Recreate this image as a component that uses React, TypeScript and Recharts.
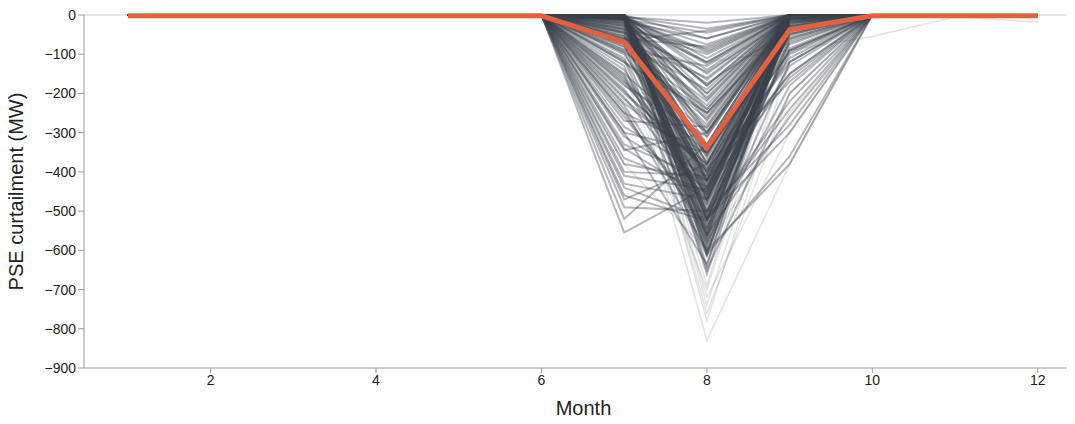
import React from "react";
import {
  LineChart,
  Line,
  XAxis,
  YAxis,
  ReferenceLine,
} from "recharts";

const months = [1, 2, 3, 4, 5, 6, 7, 8, 9, 10, 11, 12];
const monthTicks = [2, 4, 6, 8, 10, 12];
const mwTicks = [-900, -800, -700, -600, -500, -400, -300, -200, -100, 0];

// Per-scenario curtailment (MW) for the summer months; all other months are 0
const jul = [
  0, -2, -4, 0, -6, -1, -3, -8, 0, -5,
  -2, -10, 0, -4, -7, -1, -12, -3, 0, -6,
  -9, -2, -5, 0, -14, -3, -1, -8, -4, -11,
  0, -6, -2, -15, -5, -3, -9, 0, -7, -4,
  -13, -1, -6, -2, -10, 0, -5, -3, -8, -2,
  -22, -35, -48, -27, -60, -41, -75, -30, -55, -88,
  -95, -38, -67, -110, -45, -82, -120, -52, -70, -100,
  -25, -62, -90, -115, -44, -155, -180, -210, -240, -195,
  -270, -300, -165, -330, -225, -345, -410, -470, -520, -555,
  0, -3, -1, 0, -5, -2, 0, -7, -1, -4,
  -2, 0, -6, -1, 0, -3, -9, 0, -2, -5,
  -35, -130, -190, -250, -20, -300, -400, -75, -160, -460,
  -140, -200, -260, -310, -380, -430, -490, -170, -230, -285,
  -120, -95, -150, -175, -60, -215, -250, -340, -440, -365,
  -18, -30, -45, -12, -65, -25, -80, -36, -55, -20,
];
const aug = [
  -420, -560, -35, -610, -180, -150, -520, -90, -440, -270,
  -450, -95, -585, -330, -505, -215, -470, -140, -60, -545,
  -380, -600, -125, -250, -530, -300, -425, -410, -180, -45,
  -555, -240, -460, -650, -20, -515, -355, -200, -435, -560,
  -400, -570, -260, -120, -420, -110, -540, -365, -75, -445,
  -310, -200, -470, -165, -80, -425, -280, -520, -230, -130,
  -455, -340, -160, -500, -290, -375, -250, -610, -190, -405,
  -520, -510, -265, -580, -360, -440, -310, -470, -600, -395,
  -285, -350, -460, -420, -380, -300, -445, -380, -330, -440,
  -480, -530, -610, -400, -570, -455, -640, -505, -380, -590,
  -545, -420, -600, -470, -520, -355, -660, -495, -430, -575,
  -390, -615, -460, -545, -500, -635, -410, -560, -485, -525,
  -480, -380, -520, -440, -420, -470, -500, -350, -560, -410,
  -300, -250, -330, -400, -220, -390, -350, -470, -520, -450,
  -60, -100, -145, -210, -40, -175, -240, -85, -300, -120,
];
const sep = [
  0, -5, 0, -20, 0, 0, -40, 0, -10, 0,
  0, 0, -60, 0, -15, 0, -90, 0, 0, -30,
  0, -120, 0, 0, -8, 0, -150, 0, 0, 0,
  -25, 0, 0, -200, 0, -45, 0, 0, -5, -260,
  0, -70, 0, 0, -110, 0, -35, 0, 0, -12,
  0, 0, -50, 0, 0, -18, 0, -85, 0, 0,
  -6, 0, 0, -130, 0, 0, -22, -360, 0, -55,
  -300, -40, 0, -180, 0, -75, 0, -10, -380, 0,
  0, -28, -65, 0, -95, 0, -160, -15, 0, -48,
  0, 0, -5, 0, 0, -20, 0, 0, -8, 0,
  0, -3, 0, 0, -12, 0, 0, -30, 0, 0,
  -4, 0, 0, 0, -25, 0, -10, 0, 0, -2,
  -100, 0, -220, -40, -150, 0, -280, -60, 0, -120,
  0, -30, 0, -90, 0, -170, -50, 0, -240, -20,
  0, 0, -10, 0, 0, -35, 0, 0, -15, 0,
];

// rare extreme-summer scenarios
const julExtreme = [-10, -5, -60, -150, -20, -2, -380, 0];
const augExtreme = [-720, -780, -830, -700, -760, -690, -600, -740];
const sepExtreme = [-300, -120, -380, -40, -200, 0, -250, -90];

// one scenario that keeps curtailing into late autumn
const lateScenario = [0, 0, 0, 0, 0, 0, -15, -120, -90, -55, -5, -18];
const meanCurtailment = [-2, -2, -2, -2, -2, -2, -69, -338, -38, -2, -2, -2];

const scenarioKeys = jul.map((_, i) => `s${i}`);
const extremeKeys = julExtreme.map((_, i) => `x${i}`);

const summerValue = (m: number, j: number[], a: number[], s: number[], i: number) =>
  m === 7 ? j[i] : m === 8 ? a[i] : m === 9 ? s[i] : 0;

const data = months.map((m, mi) => {
  const row: Record<string, number> = {
    month: m,
    late: lateScenario[mi],
    mean: meanCurtailment[mi],
  };
  scenarioKeys.forEach((k, i) => {
    row[k] = summerValue(m, jul, aug, sep, i);
  });
  extremeKeys.forEach((k, i) => {
    row[k] = summerValue(m, julExtreme, augExtreme, sepExtreme, i);
  });
  return row;
});

const font = "'Liberation Sans', Arial, sans-serif";
const fmt = (v: number) => String(v).replace("-", "\u2212");
const scenarioStroke = "#3b414c";

export default function App() {
  return (
    <div style={{ margin: -8, background: "#fff", fontFamily: font }}>
      <LineChart
        width={1075}
        height={424}
        data={data}
        margin={{ top: 15, right: 0, left: 0, bottom: 0 }}
      >
        <XAxis
          dataKey="month"
          type="number"
          domain={[0.47, 12.45]}
          ticks={monthTicks}
          allowDataOverflow
          height={56}
          stroke="#999"
          tickSize={5}
          tick={{ fill: "#222", fontSize: 14, fontFamily: font }}
          label={{
            value: "Month",
            position: "insideBottom",
            offset: 9,
            dx: 4,
            style: { fill: "#222", fontSize: 20, fontFamily: font },
          }}
        />
        <YAxis
          domain={[-900, 0]}
          ticks={mwTicks}
          width={84}
          stroke="#999"
          tickSize={6}
          tickFormatter={fmt}
          tick={{ fill: "#222", fontSize: 14, fontFamily: font }}
          label={{
            value: "PSE curtailment (MW)",
            angle: -90,
            position: "insideLeft",
            offset: 16,
            style: { fill: "#222", fontSize: 20, fontFamily: font, textAnchor: "middle" },
          }}
        />
        <ReferenceLine y={0} stroke="#ccc" strokeWidth={1} />
        {extremeKeys.map((k) => (
          <Line
            key={k}
            dataKey={k}
            stroke={scenarioStroke}
            strokeOpacity={0.14}
            strokeWidth={1.6}
            dot={false}
            activeDot={false}
            isAnimationActive={false}
          />
        ))}
        {scenarioKeys.map((k) => (
          <Line
            key={k}
            dataKey={k}
            stroke={scenarioStroke}
            strokeOpacity={0.38}
            strokeWidth={2}
            dot={false}
            activeDot={false}
            isAnimationActive={false}
          />
        ))}
        <Line
          dataKey="late"
          stroke={scenarioStroke}
          strokeOpacity={0.15}
          strokeWidth={1.5}
          dot={false}
          activeDot={false}
          isAnimationActive={false}
        />
        <Line
          dataKey="mean"
          stroke="#e5603f"
          strokeWidth={5}
          dot={false}
          activeDot={false}
          isAnimationActive={false}
        />
      </LineChart>
    </div>
  );
}
